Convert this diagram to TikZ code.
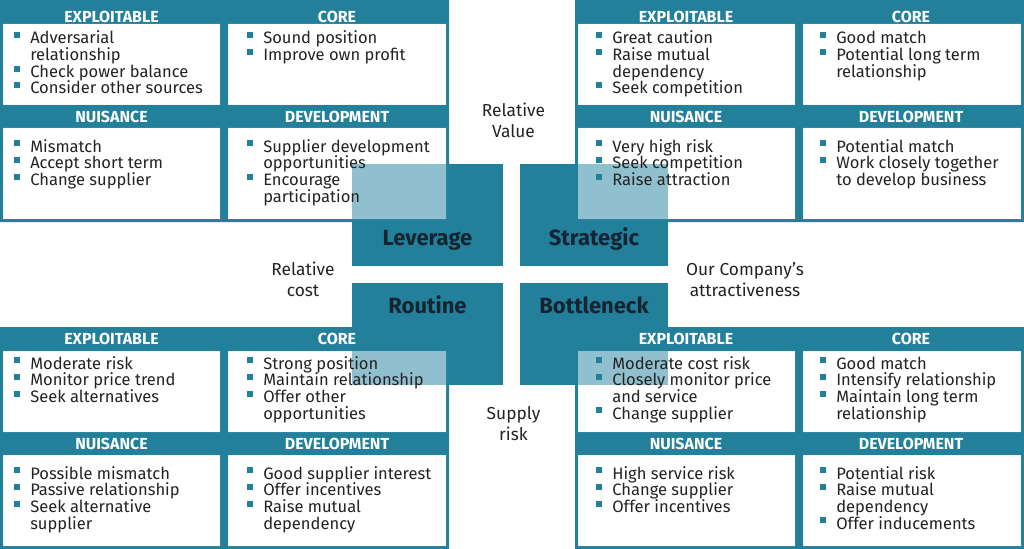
\documentclass[tikz,border=0pt]{standalone}
\usepackage{fontspec}
\setmainfont{Fira Sans}
\usetikzlibrary{positioning}

\definecolor{tealbox}{RGB}{34,128,155}
\definecolor{inktext}{RGB}{35,35,35}
\definecolor{quadtext}{RGB}{22,36,50}

% square bullet hanging left of the line
\newcommand{\bul}{\leavevmode\llap{\textcolor{tealbox}{\rule[4.3pt]{4.5pt}{4.5pt}}\hspace{7.5pt}}}
% list whose baseline is that of its first line
\newcommand{\itemlist}[1]{\parbox[t]{150pt}{\raggedright\lineskiplimit=-5pt\relax #1}}

\begin{document}
\begin{tikzpicture}[
    x=0.75pt, y=-0.75pt,
    head/.style={inner sep=0pt, text=white, font=\fontsize{12}{13}\selectfont\bfseries},
    items/.style={inner sep=0pt, anchor=base west, text=inktext,
                  font=\fontsize{12.4}{12.5}\selectfont},
    quadlabel/.style={inner sep=0pt, anchor=base, text=quadtext,
                      font=\fontsize{16.5}{18}\selectfont\bfseries},
    axislabel/.style={inner sep=0pt, anchor=base, align=center, text=inktext,
                      font=\fontsize{13}{15.75}\selectfont}
]
\useasboundingbox (0,0) rectangle (1024,549);
\clip (0,0) rectangle (1024,549);

% --- Center quadrant boxes ---
\fill[tealbox] (352,164) rectangle (503,266);
\fill[tealbox] (520,164) rectangle (668,266);
\fill[tealbox] (352,283) rectangle (503,385);
\fill[tealbox] (520,283) rectangle (668,385);

% --- Panel frames with headers ---
\foreach \px in {0,575}
  \foreach \py in {0,327}
    \fill[tealbox, even odd rule] (\px,\py) rectangle ++(449,222)
      (\px+3,\py+24) rectangle (\px+220,\py+105)
      (\px+228,\py+24) rectangle (\px+446,\py+105)
      (\px+3,\py+128) rectangle (\px+220,\py+219)
      (\px+228,\py+128) rectangle (\px+446,\py+219);

% --- Panel bodies (see-through over the center boxes) ---
\foreach \px in {0,575}
  \foreach \py in {0,327}
    \fill[white, fill opacity=0.5]
      (\px+3,\py+24) rectangle (\px+220,\py+105)
      (\px+228,\py+24) rectangle (\px+446,\py+105)
      (\px+3,\py+128) rectangle (\px+220,\py+219)
      (\px+228,\py+128) rectangle (\px+446,\py+219);

% --- Header labels ---
\foreach \hy/\r in {16.5/t, 339/b}
  \foreach \cx/\lab [count=\c] in {111.5/EXPLOITABLE, 337/CORE, 686/EXPLOITABLE, 911/CORE}
    \node[head] (h\r\c) at (\cx,\hy) {\lab};
\foreach \hy/\r in {116.5/t, 443.5/b}
  \foreach \cx/\lab [count=\c] in {111.5/NUISANCE, 337/DEVELOPMENT, 686/NUISANCE, 911/DEVELOPMENT}
    \node[head] (g\r\c) at (\cx,\hy) {\lab};

% --- Quadrant labels ---
\node[quadlabel] (leverage) at (427.5,245) {Leverage};
\node[quadlabel] (strategic) at (594,245) {Strategic};
\node[quadlabel] (routine) at (427.5,313) {Routine};
\node[quadlabel] (bottleneck) at (594,313) {Bottleneck};

% --- Axis labels (placed at last line) ---
\node[axislabel] (value) at (513.5,138) {Relative\\Value};
\node[axislabel] (cost) at (303,296) {Relative\\cost};
\node[axislabel] (attract) at (745,296) {Our Company’s\\attractiveness};
\node[axislabel] (supply) at (513.5,440) {Supply\\risk};

% --- Top left panel ---
\node[items] (tlexp) at (30,44) {\itemlist{\bul Adversarial\\relationship\\\bul Check power balance\\\bul Consider other sources}};
\node[items] (tlcore) at (263,44) {\itemlist{\bul Sound position\\\bul Improve own profit}};
\node[items] (tlnuis) at (30,152) {\itemlist{\bul Mismatch\\\bul Accept short term\\\bul Change supplier}};
\node[items] (tldev) at (263,152) {\itemlist{\bul Supplier development\\opportunities\\\bul Encourage\\participation}};

% --- Top right panel ---
\node[items] (trexp) at (612,44) {\itemlist{\bul Great caution\\\bul Raise mutual\\dependency\\\bul Seek competition}};
\node[items] (trcore) at (836,44) {\itemlist{\bul Good match\\\bul Potential long term\\relationship}};
\node[items] (trnuis) at (612,152) {\itemlist{\bul Very high risk\\\bul Seek competition\\\bul Raise attraction}};
\node[items] (trdev) at (836,152) {\itemlist{\bul Potential match\\\bul Work closely together\\to develop business}};

% --- Bottom left panel ---
\node[items] (blexp) at (30,369) {\itemlist{\bul Moderate risk\\\bul Monitor price trend\\\bul Seek alternatives}};
\node[items] (blcore) at (263,369) {\itemlist{\bul Strong position\\\bul Maintain relationship\\\bul Offer other\\opportunities}};
\node[items] (blnuis) at (30,479) {\itemlist{\bul Possible mismatch\\\bul Passive relationship\\\bul Seek alternative\\supplier}};
\node[items] (bldev) at (263,479) {\itemlist{\bul Good supplier interest\\\bul Offer incentives\\\bul Raise mutual\\dependency}};

% --- Bottom right panel ---
\node[items] (brexp) at (612,369) {\itemlist{\bul Moderate cost risk\\\bul Closely monitor price\\and service\\\bul Change supplier}};
\node[items] (brcore) at (836,369) {\itemlist{\bul Good match\\\bul Intensify relationship\\\bul Maintain long term\\relationship}};
\node[items] (brnuis) at (612,479) {\itemlist{\bul High service risk\\\bul Change supplier\\\bul Offer incentives}};
\node[items] (brdev) at (836,479) {\itemlist{\bul Potential risk\\\bul Raise mutual\\dependency\\\bul Offer inducements}};

\end{tikzpicture}
\end{document}
